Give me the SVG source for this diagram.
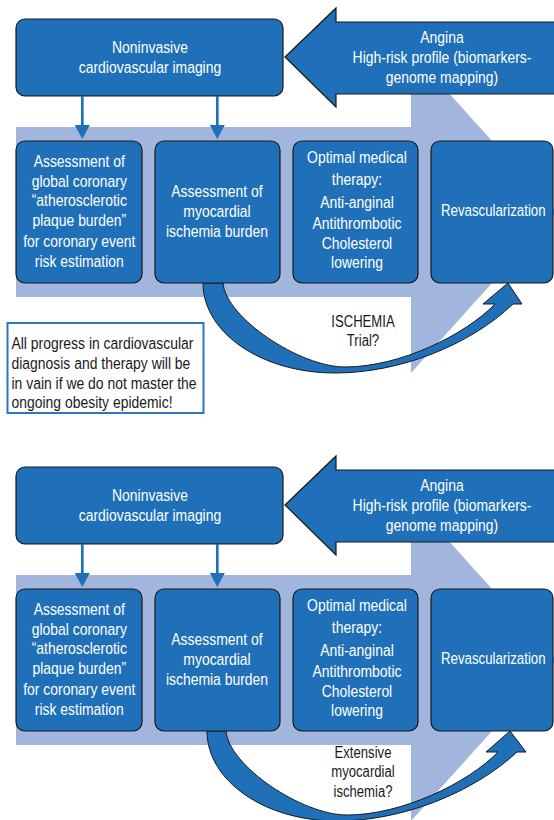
<svg xmlns="http://www.w3.org/2000/svg" width="554" height="820" viewBox="0 0 554 820">
<style>
.bg{fill:#a2b5dd}
.node{fill:#1f70b8;stroke:#1a1a1a;stroke-width:1.2}
.conn{stroke:#1f70b8;stroke-width:2.7;fill:none}
.ah{fill:#1f70b8}
.curve{fill:#1f70b8;stroke:#1a1a1a;stroke-width:1}
.note{fill:#fff;stroke:#2a78c0;stroke-width:2}
text{font-family:'Liberation Sans',Arial,sans-serif}
.wt{fill:#fff;font-size:17px;text-anchor:middle}
.bk{fill:#1a1a1a;font-size:16px;text-anchor:middle}
.nt{fill:#1a1a1a;font-size:17px}
</style>
<defs>
<g id="panel">
  <polygon class="bg" points="16,127 411,127 411,51 556,212 411,373 411,297 16,297"/>
</g>
</defs>

<!-- ===== Top panel ===== -->
<g id="top-panel">
  <g id="top-flow-band"><use href="#panel"/></g>
  <g id="top-angina">
    <polygon class="node" points="285,57 336,8 336,22 560,22 560,94 336,94 336,107"/>
    <g transform="scale(0.82,1)">
      <text class="wt" x="539.02" y="43">Angina</text>
      <text class="wt" x="539.02" y="63">High-risk profile (biomarkers-</text>
      <text class="wt" x="539.02" y="83">genome mapping)</text>
    </g>
  </g>
  <g id="top-imaging">
    <rect class="node" x="16" y="19" width="267" height="77" rx="9"/>
    <g transform="scale(0.82,1)">
      <text class="wt" x="182.93" y="53">Noninvasive</text>
      <text class="wt" x="182.93" y="73">cardiovascular imaging</text>
    </g>
  </g>
  <g id="top-connectors">
    <line class="conn" x1="82.3" y1="96" x2="82.3" y2="126"/>
    <polygon class="ah" points="74.8,125 89.8,125 82.3,139"/>
    <line class="conn" x1="217.3" y1="96" x2="217.3" y2="126"/>
    <polygon class="ah" points="209.8,125 224.8,125 217.3,139"/>
    <path class="curve" d="M203,283 C203,333 262,373 335,373 C400,373 470,345 513,304 L522,304 L508,283 L483,304 L495,304 C465,335 400,367 345,367 C300,367 226,318 223,283 Z"/>
  </g>
  <g id="top-plaque">
    <rect class="node" x="16" y="141" width="126" height="142" rx="9"/>
    <g transform="scale(0.82,1)">
      <text class="wt" x="96.71" y="166.7">Assessment of</text>
      <text class="wt" x="96.71" y="186.7">global coronary</text>
      <text class="wt" x="96.71" y="206.3">“atherosclerotic</text>
      <text class="wt" x="96.71" y="226.3">plaque burden”</text>
      <text class="wt" x="96.71" y="246.7">for coronary event</text>
      <text class="wt" x="96.71" y="266.7">risk estimation</text>
    </g>
  </g>
  <g id="top-ischemia">
    <rect class="node" x="155" y="141" width="125" height="142" rx="9"/>
    <g transform="scale(0.82,1)">
      <text class="wt" x="264.63" y="196.7">Assessment of</text>
      <text class="wt" x="264.63" y="216.7">myocardial</text>
      <text class="wt" x="264.63" y="236.7">ischemia burden</text>
    </g>
  </g>
  <g id="top-therapy">
    <rect class="node" x="293" y="141" width="125" height="142" rx="9"/>
    <g transform="scale(0.82,1)">
      <text class="wt" x="435.37" y="163.3">Optimal medical</text>
      <text class="wt" x="435.37" y="185">therapy:</text>
      <text class="wt" x="435.37" y="208.3">Anti-anginal</text>
      <text class="wt" x="435.37" y="229">Antithrombotic</text>
      <text class="wt" x="435.37" y="249.3">Cholesterol</text>
      <text class="wt" x="435.37" y="268.3">lowering</text>
    </g>
  </g>
  <g id="top-revasc">
    <rect class="node" x="431" y="141" width="122" height="142" rx="9"/>
    <g transform="scale(0.78,1)">
      <text class="wt" x="632.44" y="216">Revascularization</text>
    </g>
  </g>
  <g id="top-label">
    <g transform="scale(0.82,1)">
      <text class="bk" x="442.68" y="327">ISCHEMIA</text>
      <text class="bk" x="442.68" y="346">Trial?</text>
    </g>
  </g>
  <g id="obesity-note">
    <rect class="note" x="7.5" y="323" width="196" height="90"/>
    <g transform="scale(0.82,1)">
      <text class="nt" x="14.02" y="349">All progress in cardiovascular</text>
      <text class="nt" x="14.02" y="369">diagnosis and therapy will be</text>
      <text class="nt" x="14.02" y="389">in vain if we do not master the</text>
      <text class="nt" x="14.02" y="408">ongoing obesity epidemic!</text>
    </g>
  </g>
</g>

<!-- ===== Bottom panel ===== -->
<g id="bottom-panel" transform="translate(0,448)">
  <g id="bot-flow-band"><use href="#panel"/></g>
  <g id="bot-angina">
    <polygon class="node" points="285,57 336,8 336,22 560,22 560,94 336,94 336,107"/>
    <g transform="scale(0.82,1)">
      <text class="wt" x="539.02" y="43">Angina</text>
      <text class="wt" x="539.02" y="63">High-risk profile (biomarkers-</text>
      <text class="wt" x="539.02" y="83">genome mapping)</text>
    </g>
  </g>
  <g id="bot-imaging">
    <rect class="node" x="16" y="19" width="267" height="77" rx="9"/>
    <g transform="scale(0.82,1)">
      <text class="wt" x="182.93" y="53">Noninvasive</text>
      <text class="wt" x="182.93" y="73">cardiovascular imaging</text>
    </g>
  </g>
  <g id="bot-connectors">
    <line class="conn" x1="82.3" y1="96" x2="82.3" y2="126"/>
    <polygon class="ah" points="74.8,125 89.8,125 82.3,139"/>
    <line class="conn" x1="217.3" y1="96" x2="217.3" y2="126"/>
    <polygon class="ah" points="209.8,125 224.8,125 217.3,139"/>
    <path class="curve" d="M207,283 C207,333 265,373 337,373 C402,373 473,345 517,304 L526,304 L510,283 L486,304 L498,304 C468,335 402,367 347,367 C302,367 229,318 226,283 Z"/>
  </g>
  <g id="bot-plaque">
    <rect class="node" x="16" y="141" width="126" height="142" rx="9"/>
    <g transform="scale(0.82,1)">
      <text class="wt" x="96.71" y="166.7">Assessment of</text>
      <text class="wt" x="96.71" y="186.7">global coronary</text>
      <text class="wt" x="96.71" y="206.3">“atherosclerotic</text>
      <text class="wt" x="96.71" y="226.3">plaque burden”</text>
      <text class="wt" x="96.71" y="246.7">for coronary event</text>
      <text class="wt" x="96.71" y="266.7">risk estimation</text>
    </g>
  </g>
  <g id="bot-ischemia">
    <rect class="node" x="155" y="141" width="125" height="142" rx="9"/>
    <g transform="scale(0.82,1)">
      <text class="wt" x="264.63" y="196.7">Assessment of</text>
      <text class="wt" x="264.63" y="216.7">myocardial</text>
      <text class="wt" x="264.63" y="236.7">ischemia burden</text>
    </g>
  </g>
  <g id="bot-therapy">
    <rect class="node" x="293" y="141" width="125" height="142" rx="9"/>
    <g transform="scale(0.82,1)">
      <text class="wt" x="435.37" y="163.3">Optimal medical</text>
      <text class="wt" x="435.37" y="185">therapy:</text>
      <text class="wt" x="435.37" y="208.3">Anti-anginal</text>
      <text class="wt" x="435.37" y="229">Antithrombotic</text>
      <text class="wt" x="435.37" y="249.3">Cholesterol</text>
      <text class="wt" x="435.37" y="268.3">lowering</text>
    </g>
  </g>
  <g id="bot-revasc">
    <rect class="node" x="431" y="141" width="122" height="142" rx="9"/>
    <g transform="scale(0.78,1)">
      <text class="wt" x="632.44" y="216">Revascularization</text>
    </g>
  </g>
  <g id="bot-label">
    <g transform="scale(0.82,1)">
      <text class="bk" x="442.68" y="310.3">Extensive</text>
      <text class="bk" x="442.68" y="329.3">myocardial</text>
      <text class="bk" x="442.68" y="348.7">ischemia?</text>
    </g>
  </g>
</g>
</svg>
